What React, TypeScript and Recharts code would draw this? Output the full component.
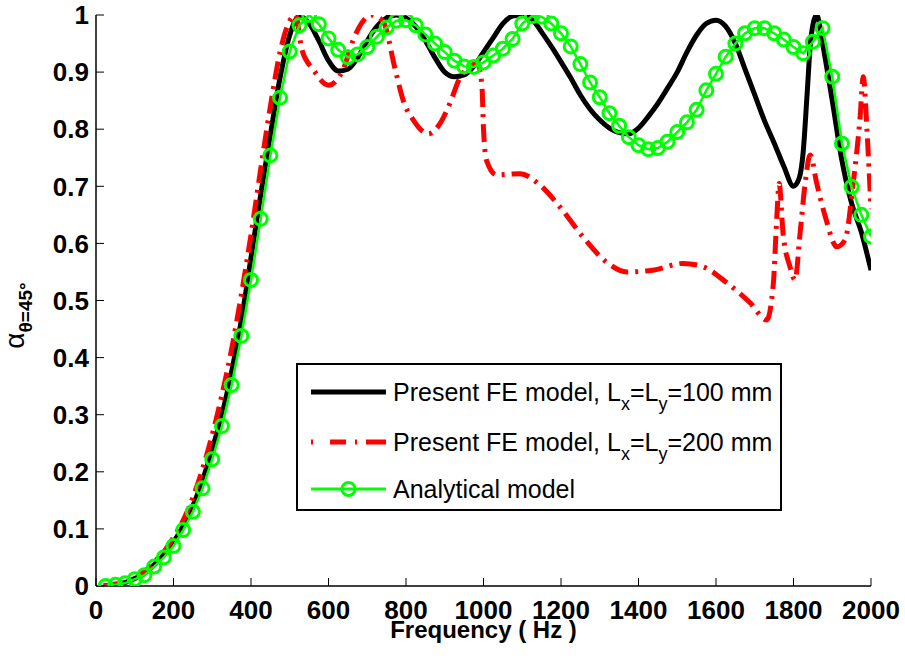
import React from 'react';
import { LineChart, Line, XAxis, YAxis, Legend, Label } from 'recharts';

const FONT = '"Liberation Sans", Arial, Helvetica, sans-serif';

const xTicks = [0, 200, 400, 600, 800, 1000, 1200, 1400, 1600, 1800, 2000];
const yTicks = [0, 0.1, 0.2, 0.3, 0.4, 0.5, 0.6, 0.7, 0.8, 0.9, 1];

const fe100Freq = [20, 50, 75, 100, 125, 150, 175, 200, 225, 250, 275, 300, 325, 350, 375, 400, 425, 450, 475, 500, 525, 550, 575, 600, 625, 650, 675, 700, 725, 750, 775, 800, 825, 850, 875, 900, 925, 950, 975, 1000, 1025, 1050, 1075, 1100, 1125, 1150, 1175, 1200, 1225, 1250, 1275, 1300, 1325, 1350, 1375, 1400, 1425, 1450, 1475, 1500, 1525, 1550, 1575, 1600, 1625, 1650, 1675, 1700, 1725, 1750, 1775, 1800, 1815, 1825, 1835, 1845, 1860, 1875, 1900, 1925, 1950, 1975, 2000];
const fe100Val = [0.0, 0.003, 0.006, 0.013, 0.022, 0.037, 0.055, 0.077, 0.105, 0.14, 0.185, 0.24, 0.3, 0.375, 0.465, 0.575, 0.685, 0.79, 0.89, 0.965, 0.998, 0.985, 0.955, 0.92, 0.902, 0.905, 0.925, 0.955, 0.98, 0.995, 1.0, 0.995, 0.98, 0.955, 0.925, 0.9, 0.892, 0.895, 0.91, 0.935, 0.96, 0.985, 0.998, 1.0, 0.993, 0.97, 0.945, 0.918, 0.89, 0.86, 0.835, 0.816, 0.802, 0.794, 0.792, 0.802, 0.822, 0.845, 0.872, 0.9, 0.935, 0.965, 0.985, 0.991, 0.98, 0.95, 0.905, 0.86, 0.815, 0.776, 0.735, 0.7, 0.715, 0.76, 0.86, 0.96, 1.0, 0.95, 0.85, 0.745, 0.67, 0.62, 0.553];

const fe200Freq = [20, 50, 75, 100, 125, 150, 175, 200, 225, 250, 275, 300, 325, 350, 375, 400, 425, 450, 475, 500, 515, 531, 560, 600, 638, 663, 690, 710, 740, 772, 793, 819, 858, 888, 913, 939, 965, 985, 996, 1000, 1008, 1034, 1094, 1146, 1197, 1257, 1318, 1370, 1437, 1515, 1567, 1628, 1688, 1731, 1748, 1757, 1763, 1773, 1791, 1804, 1817, 1830, 1843, 1860, 1882, 1912, 1933, 1954, 1972, 1980, 1990, 2000];
const fe200Val = [0.0, 0.003, 0.007, 0.015, 0.025, 0.042, 0.06, 0.085, 0.115, 0.155, 0.205, 0.265, 0.335, 0.415, 0.51, 0.615, 0.73, 0.84, 0.935, 0.99, 1.0, 0.94, 0.905, 0.877, 0.905, 0.955, 0.99, 1.0, 0.99, 0.905, 0.85, 0.816, 0.792, 0.81, 0.845, 0.89, 0.91, 0.915, 0.875, 0.8, 0.745, 0.72, 0.722, 0.702, 0.664, 0.611, 0.567, 0.55, 0.553, 0.565, 0.559, 0.531, 0.496, 0.466, 0.53, 0.647, 0.705, 0.618, 0.559, 0.536, 0.618, 0.705, 0.755, 0.705, 0.647, 0.594, 0.606, 0.705, 0.822, 0.892, 0.793, 0.66];

const anaFreq = [25, 50, 75, 100, 125, 150, 175, 200, 225, 250, 275, 300, 325, 350, 375, 400, 425, 450, 475, 500, 525, 550, 575, 600, 625, 650, 675, 700, 725, 750, 775, 800, 825, 850, 875, 900, 925, 950, 975, 1000, 1025, 1050, 1075, 1100, 1125, 1150, 1175, 1200, 1225, 1250, 1275, 1300, 1325, 1350, 1375, 1400, 1425, 1450, 1475, 1500, 1525, 1550, 1575, 1600, 1625, 1650, 1675, 1700, 1725, 1750, 1775, 1800, 1825, 1850, 1875, 1900, 1925, 1950, 1975, 2000];
const anaVal = [0.0, 0.002, 0.005, 0.012, 0.019, 0.034, 0.05, 0.07, 0.098, 0.13, 0.171, 0.222, 0.28, 0.352, 0.438, 0.536, 0.643, 0.754, 0.855, 0.936, 0.982, 1.0, 0.984, 0.959, 0.939, 0.926, 0.931, 0.944, 0.962, 0.978, 0.99, 0.991, 0.982, 0.966, 0.95, 0.935, 0.92, 0.91, 0.909, 0.917, 0.929, 0.941, 0.958, 0.985, 0.998, 0.997, 0.985, 0.968, 0.945, 0.914, 0.882, 0.856, 0.828, 0.806, 0.786, 0.772, 0.765, 0.767, 0.778, 0.795, 0.812, 0.834, 0.868, 0.897, 0.927, 0.95, 0.968, 0.977, 0.977, 0.968, 0.957, 0.944, 0.933, 0.953, 0.977, 0.892, 0.775, 0.699, 0.65, 0.612];

const seriesNames = [
  'Present FE model, Lx=Ly=100 mm',
  'Present FE model, Lx=Ly=200 mm',
  'Analytical model',
];

const toRows = (fs: number[], vs: number[]) => fs.map((f, i) => ({ f, v: vs[i] }));
const fe100 = toRows(fe100Freq, fe100Val);
const fe200 = toRows(fe200Freq, fe200Val);
const ana = toRows(anaFreq, anaVal);

const RED_DASH = '18 7 3 7';
const GREEN = '#00ff00';

const Empty = () => <g />;

const BottomTick = (props: any) => (
  <text
    x={props.x}
    y={props.y}
    dy="0.71em"
    textAnchor="middle"
    fontFamily={FONT}
    fontWeight="bold"
    fontSize={26}
    fill="#000"
  >
    {props.payload.value}
  </text>
);

const LeftTick = (props: any) => (
  <text
    x={props.x}
    y={props.y}
    dy="0.355em"
    textAnchor="end"
    fontFamily={FONT}
    fontWeight="bold"
    fontSize={26}
    fill="#000"
  >
    {String(+Number(props.payload.value).toFixed(1))}
  </text>
);

const YLabel = (props: any) => {
  const vb = props.viewBox || {};
  const cx = 24;
  const cy = vb.y + vb.height / 2 + 15;
  return (
    <text
      x={cx}
      y={cy}
      transform={`rotate(-90, ${cx}, ${cy})`}
      textAnchor="middle"
      fontFamily={FONT}
      fill="#000"
    >
      <tspan fontSize={28}>α</tspan>
      <tspan fontSize={19} dy={8} fontWeight="bold">θ=45°</tspan>
    </text>
  );
};

const XLabel = (props: any) => {
  const vb = props.viewBox || {};
  return (
    <text
      x={vb.x + vb.width / 2}
      y={vb.y + 52}
      textAnchor="middle"
      fontFamily={FONT}
      fontWeight="bold"
      fontSize={24}
      fill="#000"
    >
      Frequency ( Hz )
    </text>
  );
};

const Sub = ({ c }: { c: string }) => (
  <span style={{ fontSize: 18, position: 'relative', top: 9 }}>{c}</span>
);

const FeLabel = ({ size }: { size: string }) => (
  <span>
    Present FE model, L<Sub c="x" />=L<Sub c="y" />={size} mm
  </span>
);

const LegendBox = () => {
  const rowTop = [12, 62, 109];
  const sample = (i: number) => {
    if (i === 0)
      return <line x1={0} y1={15} x2={75} y2={15} stroke="#000" strokeWidth={5} />;
    if (i === 1)
      return (
        <line x1={0} y1={15} x2={75} y2={15} stroke="#ff0000" strokeWidth={5} strokeDasharray="2 17 16 9 2 9 30" />
      );
    return (
      <g>
        <line x1={0} y1={15} x2={75} y2={15} stroke={GREEN} strokeWidth={3} />
        <circle cx={37.5} cy={15} r={6.5} fill="none" stroke={GREEN} strokeWidth={3} />
      </g>
    );
  };
  const labels = [<FeLabel size="100" />, <FeLabel size="200" />, <span>{seriesNames[2]}</span>];
  return (
    <div
      style={{
        width: 482,
        height: 144,
        border: '2px solid #000',
        background: '#fff',
        position: 'relative',
        fontFamily: FONT,
        fontSize: 25,
        color: '#000',
        lineHeight: '30px',
      }}
    >
      {rowTop.map((t, i) => (
        <div key={i} style={{ position: 'absolute', left: 13, top: t, height: 30, display: 'flex', whiteSpace: 'nowrap' }}>
          <svg width={75} height={30} style={{ display: 'block' }}>{sample(i)}</svg>
          <div style={{ marginLeft: 7 }}>{labels[i]}</div>
        </div>
      ))}
    </div>
  );
};

export default function App() {
  return (
    <div style={{ position: 'absolute', left: 0, top: 0, width: 905, height: 658, background: '#fff' }}>
      <LineChart width={905} height={658} margin={{ top: 15, right: 34, bottom: 0, left: 0 }}>
        <XAxis
          dataKey="f"
          type="number"
          domain={[0, 2000]}
          ticks={xTicks}
          interval={0}
          allowDataOverflow
          height={72}
          tickSize={-8}
          tickMargin={23}
          tick={BottomTick}
          axisLine={{ stroke: '#000', strokeWidth: 1.5 }}
          tickLine={{ stroke: '#000', strokeWidth: 1 }}
        >
          <Label content={XLabel} />
        </XAxis>
        <XAxis
          xAxisId="top"
          orientation="top"
          dataKey="f"
          type="number"
          domain={[0, 2000]}
          ticks={xTicks}
          interval={0}
          allowDataOverflow
          height={0}
          tickSize={-8}
          tick={Empty}
          axisLine={{ stroke: '#000', strokeWidth: 1.5 }}
          tickLine={{ stroke: '#000', strokeWidth: 1 }}
        />
        <YAxis
          type="number"
          domain={[0, 1]}
          ticks={yTicks}
          interval={0}
          allowDataOverflow
          width={96}
          tickSize={-8}
          tickMargin={15}
          tick={LeftTick}
          axisLine={{ stroke: '#000', strokeWidth: 1.5 }}
          tickLine={{ stroke: '#000', strokeWidth: 1 }}
        >
          <Label content={YLabel} />
        </YAxis>
        <YAxis
          yAxisId="right"
          orientation="right"
          type="number"
          domain={[0, 1]}
          ticks={yTicks}
          interval={0}
          allowDataOverflow
          width={0}
          tickSize={-8}
          tick={Empty}
          axisLine={{ stroke: '#000', strokeWidth: 1.5 }}
          tickLine={{ stroke: '#000', strokeWidth: 1 }}
        />
        <Legend
          layout="vertical"
          align="center"
          verticalAlign="middle"
          content={LegendBox}
          wrapperStyle={{ position: 'absolute', left: 296, top: 363, width: 486, height: 148 }}
        />
        <Line
          data={fe100}
          dataKey="v"
          name={seriesNames[0]}
          type="monotone"
          stroke="#000"
          strokeWidth={5}
          dot={false}
          activeDot={false}
          isAnimationActive={false}
        />
        <Line
          data={fe200}
          dataKey="v"
          name={seriesNames[1]}
          type="monotone"
          stroke="#ff0000"
          strokeWidth={5}
          strokeDasharray={RED_DASH}
          dot={false}
          activeDot={false}
          isAnimationActive={false}
        />
        <Line
          data={ana}
          dataKey="v"
          name={seriesNames[2]}
          type="linear"
          stroke={GREEN}
          strokeWidth={2.5}
          dot={{ r: 6.5, fill: 'none', stroke: GREEN, strokeWidth: 3 }}
          activeDot={false}
          isAnimationActive={false}
        />
      </LineChart>
    </div>
  );
}
